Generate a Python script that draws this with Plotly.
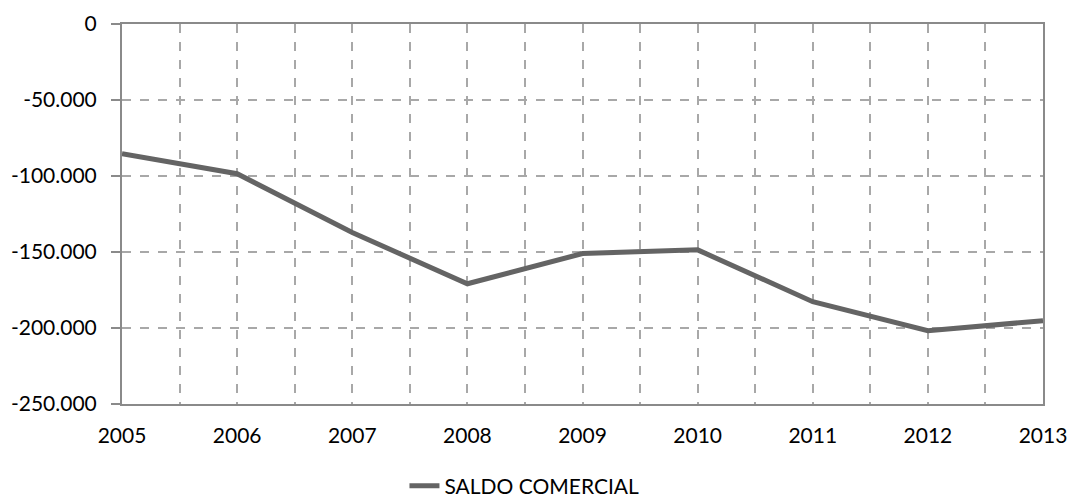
import plotly.graph_objects as go

# Saldo comercial anual
years = [2005, 2006, 2007, 2008, 2009, 2010, 2011, 2012, 2013]
saldo_comercial = [-85400, -98500, -137200, -170900, -151000, -148600, -182700, -201800, -195200]

y_ticks = [0, -50000, -100000, -150000, -200000, -250000]
y_tick_labels = ["0", "-50.000", "-100.000", "-150.000", "-200.000", "-250.000"]
x_ticks = years
x_tick_labels = [str(y) for y in years]

FONT = "Lato"
LINE_COLOR = "#646464"
GRID_COLOR = "#a8a8a8"
AXIS_COLOR = "#8a8a8a"

fig = go.Figure()
fig.add_trace(go.Scatter(
    x=years,
    y=saldo_comercial,
    mode="lines",
    name="SALDO COMERCIAL",
    line=dict(color=LINE_COLOR, width=5),
))

fig.update_layout(
    width=1070,
    height=499,
    margin=dict(l=122, r=27, t=24, b=95, autoexpand=False),
    paper_bgcolor="white",
    plot_bgcolor="white",
    font=dict(family=FONT, size=21, color="#000000"),
    showlegend=True,
    legend=dict(
        orientation="h",
        xref="container",
        yref="container",
        x=0.378,
        y=0.026,
        xanchor="left",
        yanchor="middle",
        font=dict(family=FONT, size=21, color="#000000"),
        bgcolor="rgba(0,0,0,0)",
    ),
)

fig.update_xaxes(
    range=[2005, 2013],
    automargin=False,
    tickmode="array",
    tickvals=x_ticks,
    ticktext=x_tick_labels,
    ticks="",
    ticklabelstandoff=12,
    showline=True,
    linecolor=AXIS_COLOR,
    linewidth=2,
    mirror=True,
    showgrid=True,
    gridcolor=GRID_COLOR,
    griddash="dash",
    gridwidth=1.5,
    minor=dict(dtick=0.5, tick0=2005, showgrid=True, gridcolor=GRID_COLOR,
               griddash="dash", gridwidth=1.5),
    zeroline=False,
)

fig.update_yaxes(
    range=[-250000, 0],
    automargin=False,
    tickmode="array",
    tickvals=y_ticks,
    ticktext=y_tick_labels,
    ticks="outside",
    ticklen=9,
    tickcolor=AXIS_COLOR,
    tickwidth=2,
    ticklabelstandoff=10,
    showline=True,
    linecolor=AXIS_COLOR,
    linewidth=2,
    mirror=True,
    showgrid=True,
    gridcolor=GRID_COLOR,
    griddash="dash",
    gridwidth=1.5,
    zeroline=False,
)

fig.write_html("out.html")
